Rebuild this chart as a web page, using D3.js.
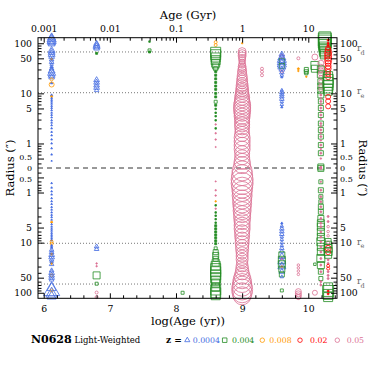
<!DOCTYPE html>
<html>
<head>
<meta charset="utf-8">
<script src="https://cdn.jsdelivr.net/npm/d3@7"></script>
<style>
body { margin: 0; background: #fff; }
text { font-family: "DejaVu Serif", serif; }
</style>
</head>
<body>
<svg id="chart" width="374" height="374"></svg>
<script>
// N0628 light weighted SSP fractions, radius vs age
// point = [radius in arcsec (+ upper half, - lower half), metallicity index, weight]

const metals = ["0.0004", "0.004", "0.008", "0.02", "0.05"];
const metalColors = ["#4169e1", "#228b22", "#ff9900", "#ff0000", "#db7093"];
const metalShapes = ["triangle", "square", "circle", "circle", "circle"];

const ageTicks = [6, 7, 8, 9, 10];
const gyrTicks = [0.001, 0.01, 0.1, 1, 10];
const radiusTicks = [0.5, 1, 5, 10, 50, 100];
const rEff = 10.3;
const rDisk = 67;

const col612 = [
  [130,0,7],[121,0,8],[112,0,8],[104,0,7],[97,0,6],
  [72,0,6],[66,0,6],[60,0,6],[54,0,5],[48,2,2],[47,0,4],[42,0,4],[38,0,3],[34,0,3],[31,0,4],
  [28,0,6],[25.5,0,7],[23,0,6],[21,0,5],[19,2,3],[16,0,2],[15,2,5],
  [9.2,0,2],[8.6,2,2],[8,0,1.5],[7.4,0,1.5],[6.8,0,1.5],[6.2,0,1.5],[5.6,0,1.5],[5.1,0,1.5],
  [4.6,0,1.5],[4.1,0,1.5],[3.7,0,1.5],[3.3,0,1.5],[2.9,0,1.5],[2.6,0,1.5],[2.3,0,1.5],[2,0,1.5],
  [1.7,0,1.5],[1.45,0,1.5],[1.2,0,1.5],[1,0,1.5],[0.8,0,1.5],[0.6,0,1.5],[0.45,0,1.2],
  [-0.65,0,1.5],[-0.8,0,1.5],[-0.95,0,1.5],[-1.1,0,1.5],[-1.3,0,1.5],[-1.5,0,1.5],[-1.7,0,1.5],
  [-1.95,0,1.5],[-2.2,0,1.5],[-2.5,0,1.5],[-2.8,0,1.5],[-3.1,0,1.5],[-3.5,0,1.5],[-3.9,2,2],
  [-4.3,0,1.5],[-4.8,0,1.5],[-5.3,0,1.5],[-5.8,0,1.5],[-6.4,0,1.5],[-7,0,1.5],[-7.6,0,1.5],
  [-8.3,0,1.5],[-9,0,2],[-9.6,2,3],[-10.5,2,3],[-11.5,0,2],[-12.5,0,2],[-14,0,4],[-15.5,0,4],
  [-17,2,2],[-17.5,0,5],[-19.5,0,5],[-22,0,4],[-24,0,3],[-26,2,2],[-27,0,4],[-36,0,4],[-40,0,5],
  [-45,2,3],[-45,0,5],[-50,0,5],[-55,0,4],[-80,0,8],[-92,0,14],[-90,2,3],[-105,0,10],[-118,0,8]
];
const col68 = [
  [98,0,5],[91,0,6],[85,0,6],[79,0,5],[63,1,2],
  [18.5,0,5],[16.5,0,5],[14.5,0,5],[13,0,5],[11.5,0,4],
  [-12,0,4],[-13.5,0,4],[-26,4,1.5],[-29.5,4,1.5],[-45,1,7],[-66,1,3],[-99,4,3],[-122,4,3]
];
const col76 = [[108,1,1.5],[72,1,3],[67,1,2]];
const col81 = [[-100,1,3]];
const col86 = [
  [105,2,3],[92,2,3],
  [66,1,10],[59,1,10],[52,1,9],[46,1,9],[40,1,8],[35,1,6],[31,1,4],[27,1,2],[23,1,2],[19.5,1,2],
  [16.5,1,2],[14,1,2],[12,1,2],[10,1,2],[8.5,1,2],[6.8,1,3],[5.8,1,2],[4.9,1,1.5],[4.1,1,1.5],
  [3.5,1,1.5],[2.9,1,1.5],[2.4,4,1.5],[2,1,1.5],[1.6,4,1.5],[1.2,4,1.5],[0.85,4,1.2],
  [-0.6,4,1.2],[-0.9,4,1.5],[-1.15,4,1.5],[-1.5,2,1.5],[-1.8,1,1.5],[-2.1,4,1.5],[-2.5,1,1.5],
  [-2.9,1,1.5],[-3.4,1,1.5],[-4,1,1.5],[-4.6,1,2],[-5.3,1,2],[-6.1,1,2],[-7,1,2],[-8,1,2],
  [-9.2,1,2],[-10.5,1,2],[-13,1,3],[-15.5,1,5],[-18,1,6],[-21,1,5],[-25,1,7],[-29,1,9],
  [-33,1,10],[-38,1,10],[-44,1,10],[-50,1,10],[-57,1,9],[-64,1,8],[-78,1,8],[-88,1,10],
  [-100,1,10],[-112,1,9]
];
const col90 = [
  [100,2,1.5],
  [68,4,8],[62,4,8],[56,4,8],[51,4,7],[46,4,7],[42,4,6],[38,4,7],[34,4,8],[31,4,8],[28,4,9],
  [25,4,9],[22,4,10],[20,4,10],[18,4,11],[16,4,11],[14.3,4,12],[12.8,4,12],[11.5,4,13],
  [10.3,4,13],[9.2,4,14],[8.2,4,15],[7.3,4,15],[6.5,4,16],[5.8,4,17],[5.1,4,17],[4.5,4,17],
  [4,4,16],[3.5,4,16],[3.1,4,15],[2.7,4,15],[2.4,4,15],[2.1,4,15],[1.8,4,14],[1.55,4,15],
  [1.3,4,16],[1.1,4,16],[0.92,4,16],[0.77,4,16],[0.64,4,15],[0.53,4,15],[0.44,4,16],[0.37,4,17],
  [-0.37,4,20],[-0.45,4,21],[-0.55,4,22],[-0.66,4,22],[-0.8,4,21],[-0.95,4,20],[-1.15,4,20],
  [-1.38,4,19],[-1.65,4,19],[-1.95,4,18],[-2.3,4,18],[-2.7,4,17],[-3.2,4,17],[-3.8,4,16],
  [-4.5,4,16],[-5.3,4,16],[-6.2,4,15],[-7.3,4,15],[-8.5,4,14],[-10,4,14],[-11.7,4,13],
  [-13.6,4,13],[-16,4,12],[-18.5,4,12],[-21.5,4,12],[-25,4,11],[-29,4,12],[-34,4,13],
  [-40,4,14],[-47,4,16],[-55,4,18],[-64,4,19],[-74,4,20],[-86,4,21],[-100,4,20],[-115,4,18]
];
const col93 = [[31,4,3],[27,4,3],[23,4,3]];
const col96 = [
  [60,0,5],[55,4,4],[52,0,7],[47,0,8],[44,1,5],[42,0,8],[38,0,8],[35,1,5],[34,0,7],[30,0,5],
  [27,4,3],[26,0,4],[23,0,3],[21,0,2],
  [11.5,0,3],[10.5,0,4],[9.5,0,4],[8.6,0,4],[7.7,0,4],[6.8,0,3],[6,0,3],[5.3,0,2],
  [-4.1,0,2],[-4.7,0,3],[-5.3,0,4],[-6,0,4],[-6.8,0,4],[-7.7,0,3],[-8.7,0,3],[-10,0,3],
  [-11.5,0,3],[-13,0,4],[-15,0,4],[-17.5,1,6],[-19,0,6],[-21,4,2],[-22,1,7],[-24,0,7],
  [-27,1,7],[-30,0,7],[-30,4,2],[-34,1,6],[-38,0,5],[-43,1,5],[-48,0,3],[-90,1,3]
];
const col985 = [
  [50,4,3],[31,2,2],[28,2,1.5],
  [-28,4,2.5],[-32,4,2.5],[-37,4,2.5],[-43,4,2.5],[-95,4,6],[-105,4,6],[-115,4,6],[-122,4,5]
];
const col997 = [[30,1,4],[27,1,4],[25,1,3],[21.5,2,1.5]];
const col101 = [[53,4,6],[36,1,8],[31,1,7],[-27,1,2.5],[-100,4,5]];
const col1019 = [
  [40,4,6],[34,4,5],[30,1,7],[29,4,5],[25,4,5],[24,1,7],[21,4,4],[17,1,6],[17,4,4],[14,1,6],
  [14,4,4],[12,4,4],[11.5,1,6],
  [9.3,1,6],[6.9,1,5],[5.1,1,5],[3.7,1,5],[2.5,1,5],[1.86,1,5],[1.37,1,5],[0.93,1,5],[0.64,1,5],[0.34,1,6],
  [9.3,4,2],[8,4,1.5],[6.9,4,2],[6,4,1.5],[5.1,4,2],[4.4,4,1.5],[3.7,4,2],[3.1,4,1.5],[2.5,4,2],
  [2.2,4,1.5],[1.86,4,2],[1.6,4,1.5],[1.37,4,2],[1.15,4,1.5],[0.93,4,2],[0.78,4,1.5],[0.64,4,2],
  [0.5,4,1.5],[0.34,4,2],
  [-0.33,1,6],[-0.61,1,4],[-0.9,1,5],[-1.21,1,4],[-1.53,1,4],[-1.92,1,5],[-2.42,1,5],[-3.3,1,6],
  [-4.1,1,7],[-4.8,1,7],[-6.1,1,7],[-7.7,1,7],[-9.6,1,8],[-12.1,1,7],[-15.3,1,7],[-20.7,1,8],
  [-28,1,7],[-38,1,5],[-52,1,4],
  [-0.33,4,2],[-0.61,4,1.5],[-0.9,4,2],[-1.21,4,2],[-1.53,4,2],[-1.92,4,2],[-2.42,4,2],[-3.3,4,2],
  [-4.1,4,2],[-4.8,4,2],[-6.1,4,2],[-7.7,4,2],[-9.6,4,2],[-12.1,4,2],[-15.3,4,2],[-20.7,4,2],
  [-28,4,2],[-38,4,2],[-60,4,2],[-70,4,2]
];
const col1025 = [
  [128,1,12],[118,1,13],[108,1,13],[98,1,12],[90,1,12],[82,1,11],[74,1,11],[67,1,10],[60,1,9]
];
const col103 = [
  [115,3,2],[100,3,2],[90,3,2],
  [80,3,5],[72,3,6],[64,3,7],[57,3,7],[51,3,7],[45,3,7],[40,3,6],[35,3,6],[31,3,6],[27,3,5],
  [24,3,5],[21,3,5],[22,1,9],[19,1,10],[16.5,1,10],[14.5,1,10],[12.5,1,9],[11,1,8],
  [8.5,3,5],[7,3,5],[5.5,3,5],
  [-3,4,2],[-3.8,4,2],[-4.8,4,2.5],[-6,4,2.5],[-7.3,4,2.5],[-9.5,1,6],[-10,4,3],[-11,1,7],
  [-12,4,3],[-13,1,8],[-13,3,6],[-15,1,8],[-15.5,3,5],[-17.5,1,7],[-22,4,2],[-26,4,2],
  [-29,3,3],[-33,3,3],[-38,4,2],[-45,4,2],[-52,4,2],
  [-78,1,9],[-92,1,11],[-92,3,2],[-105,3,2],[-108,1,10],[-122,1,9]
];

const columns = [
  [6.12, col612], [6.8, col68], [7.6, col76], [8.1, col81], [8.6, col86], [9.0, col90],
  [9.3, col93], [9.6, col96], [9.85, col985], [9.97, col997], [10.1, col101],
  [10.19, col1019], [10.25, col1025], [10.3, col103]
];

const svg = d3.select("#chart");

// plot box
const boxLeft = 38, boxRight = 337, boxTop = 37.7, boxBottom = 298.3;
const mid = (boxTop + boxBottom) / 2;

const x = d3.scaleLinear().domain([5.914, 10.434]).range([boxLeft, boxRight]);
const xGyr = d3.scaleLog().domain([Math.pow(10, 5.914 - 9), Math.pow(10, 10.434 - 9)]).range([boxLeft, boxRight]);
// each half of the plot is its own log radius scale
const yUp = d3.scaleLog().domain([0.324, 129]).range([mid, boxTop]);
const yDown = d3.scaleLog().domain([0.324, 129]).range([mid, boxBottom]);
const ySigned = r => r > 0 ? yUp(r) : yDown(-r);
const size = d3.scaleLinear().domain([0, 20]).range([0, 20]);

// reference lines
[rEff, rDisk].forEach(r => {
  [yUp(r), yDown(r)].forEach(yy => {
    svg.append("line").attr("x1", boxLeft).attr("x2", boxRight).attr("y1", yy).attr("y2", yy)
      .attr("stroke", "#777").attr("stroke-width", 1).attr("stroke-dasharray", "1,2");
  });
});
svg.append("line").attr("x1", boxLeft).attr("x2", boxRight).attr("y1", mid).attr("y2", mid)
  .attr("stroke", "#333").attr("stroke-width", 1).attr("stroke-dasharray", "5,4");

// markers
function markerPath(shape, s) {
  if (shape === "triangle") {
    let a = s * 1.15;
    let h = a / Math.sqrt(3);
    return "M0," + (-h) + "L" + (a / 2) + "," + (h / 2) + "L" + (-a / 2) + "," + (h / 2) + "Z";
  }
  if (shape === "square") {
    let h = s / 2;
    return "M" + (-h) + "," + (-h) + "H" + h + "V" + h + "H" + (-h) + "Z";
  }
  let rr = s / 2;
  return "M" + rr + ",0A" + rr + "," + rr + " 0 1,1 " + (-rr) + ",0A" + rr + "," + rr + " 0 1,1 " + rr + ",0Z";
}

const pts = [];
columns.forEach(c => c[1].forEach(p => pts.push({ age: c[0], r: p[0], z: p[1], w: p[2] })));

const plot = svg.append("g");
plot.selectAll("path.pt")
  .data(pts)
  .join("path")
  .attr("class", "pt")
  .attr("transform", d => "translate(" + x(d.age) + "," + ySigned(d.r) + ")")
  .attr("d", d => markerPath(metalShapes[d.z], size(d.w)))
  .attr("fill", d => d.w <= 2 ? metalColors[d.z] : "none")
  .attr("stroke", d => metalColors[d.z])
  .attr("stroke-width", 0.8);

// frame
svg.append("rect").attr("x", boxLeft).attr("y", boxTop).attr("width", boxRight - boxLeft).attr("height", boxBottom - boxTop)
  .attr("fill", "none").attr("stroke", "#000").attr("stroke-width", 1);

const tickFont = g => g.selectAll("text").attr("font-family", "DejaVu Serif").attr("font-size", 9.3).attr("fill", "#000");
const clean = g => { g.select(".domain").remove(); g.selectAll("line").attr("stroke", "#000"); };

// bottom axis
svg.append("g").attr("transform", "translate(0," + boxBottom + ")")
  .call(d3.axisBottom(x).tickValues(ageTicks).tickSize(-5).tickPadding(7).tickFormat(d3.format("d")))
  .call(clean).call(tickFont);
svg.append("g").attr("transform", "translate(0," + boxBottom + ")")
  .call(d3.axisBottom(x).tickValues(d3.range(6.2, 10.45, 0.2).filter(v => Math.abs(v - Math.round(v)) > 0.01)).tickSize(-3).tickFormat(""))
  .call(clean);

// top axis
const gyrMinor = [];
[0.0001, 0.001, 0.01, 0.1, 1, 10].forEach(d => {
  for (let k = 2; k <= 9; k++) {
    let v = d * k;
    if (v > xGyr.domain()[0] && v < xGyr.domain()[1]) gyrMinor.push(v);
  }
});
svg.append("g").attr("transform", "translate(0," + boxTop + ")")
  .call(d3.axisTop(xGyr).tickValues(gyrTicks).tickSize(-5).tickPadding(6).tickFormat(d => String(d)))
  .call(clean).call(tickFont);
svg.append("g").attr("transform", "translate(0," + boxTop + ")")
  .call(d3.axisTop(xGyr).tickValues(gyrMinor).tickSize(-3).tickFormat(""))
  .call(clean);

// left / right radius axes, the 0.5 labels crowd the centre so they are a bit smaller
const radiusMinor = [0.4, 0.6, 0.7, 0.8, 0.9, 2, 3, 4, 6, 7, 8, 9, 20, 30, 40, 60, 70, 80, 90];
const nearZero = (g, shift) => g.selectAll(".tick").filter(d => d === 0.5).select("text")
  .attr("font-size", 8).attr("y", shift);
[[yUp, -1.2], [yDown, 1.2]].forEach(([ys, shift]) => {
  svg.append("g").attr("transform", "translate(" + boxLeft + ",0)")
    .call(d3.axisLeft(ys).tickValues(radiusTicks).tickSize(-6).tickPadding(6).tickFormat(d => String(d)))
    .call(clean).call(tickFont).call(g => nearZero(g, shift));
  svg.append("g").attr("transform", "translate(" + boxLeft + ",0)")
    .call(d3.axisLeft(ys).tickValues(radiusMinor).tickSize(-3.5).tickFormat(""))
    .call(clean);
  svg.append("g").attr("transform", "translate(" + boxRight + ",0)")
    .call(d3.axisRight(ys).tickValues(radiusTicks).tickSize(-6).tickPadding(3).tickFormat(d => String(d)))
    .call(clean).call(tickFont).call(g => nearZero(g, shift));
  svg.append("g").attr("transform", "translate(" + boxRight + ",0)")
    .call(d3.axisRight(ys).tickValues(radiusMinor).tickSize(-3.5).tickFormat(""))
    .call(clean);
});
svg.append("text").attr("x", boxLeft - 6).attr("y", mid).attr("dy", "0.32em").attr("text-anchor", "end")
  .attr("font-size", 8).text("0");
svg.append("text").attr("x", boxRight + 3).attr("y", mid).attr("dy", "0.32em")
  .attr("font-size", 8).text("0");

// r_e / r_d markers on right side
function radLabel(yy, sub, rOff, sOff) {
  let t = svg.append("text").attr("fill", "#666").attr("font-size", 9);
  t.append("tspan").attr("x", 357).attr("y", yy + rOff).text("r");
  t.append("tspan").attr("x", 360.5).attr("y", yy + sOff).attr("font-size", 6.5).text(sub);
}
radLabel(yUp(rDisk), "d", -1, 3.5);
radLabel(yDown(rDisk), "d", -0.5, 3.5);
radLabel(yUp(rEff), "e", 1.5, 5);
radLabel(yDown(rEff), "e", 1.5, 5);

// titles
svg.append("text").attr("x", 188).attr("y", 18.5).attr("text-anchor", "middle").attr("font-size", 11.5).text("Age (Gyr)");
svg.append("text").attr("x", 188).attr("y", 324.5).attr("text-anchor", "middle").attr("font-size", 11.5).text("log(Age (yr))");
svg.append("text").attr("transform", "translate(14," + mid + ") rotate(-90)").attr("text-anchor", "middle")
  .attr("font-size", 11.5).text("Radius (\u2033)");
svg.append("text").attr("transform", "translate(359," + mid + ") rotate(90)").attr("text-anchor", "middle")
  .attr("font-size", 11.5).text("Radius (\u2033)");

// legend
const legY = 343;
svg.append("text").attr("x", 31).attr("y", legY).attr("font-family", "Liberation Mono").attr("font-weight", "bold")
  .attr("font-size", 11).text("N0628");
svg.append("text").attr("x", 69).attr("y", legY).attr("font-family", "Liberation Mono")
  .attr("font-size", 8.5).text(": Light-Weighted");
svg.append("text").attr("x", 166).attr("y", legY).attr("font-family", "Liberation Mono").attr("font-weight", "bold")
  .attr("font-size", 9).text("z =");
const legMarkX = [187.3, 224.7, 262.3, 300, 337.3];
const legTextX = [192.7, 232, 269.3, 310, 346.7];
metals.forEach((m, i) => {
  svg.append("path").attr("transform", "translate(" + legMarkX[i] + "," + (legY - 2.8) + ")")
    .attr("d", markerPath(metalShapes[i], 4.5)).attr("fill", "none")
    .attr("stroke", metalColors[i]).attr("stroke-width", 0.8);
  svg.append("text").attr("x", legTextX[i]).attr("y", legY).attr("font-family", "DejaVu Sans")
    .attr("font-size", 7.8).attr("fill", metalColors[i]).text(m);
});
</script>
</body>
</html>
